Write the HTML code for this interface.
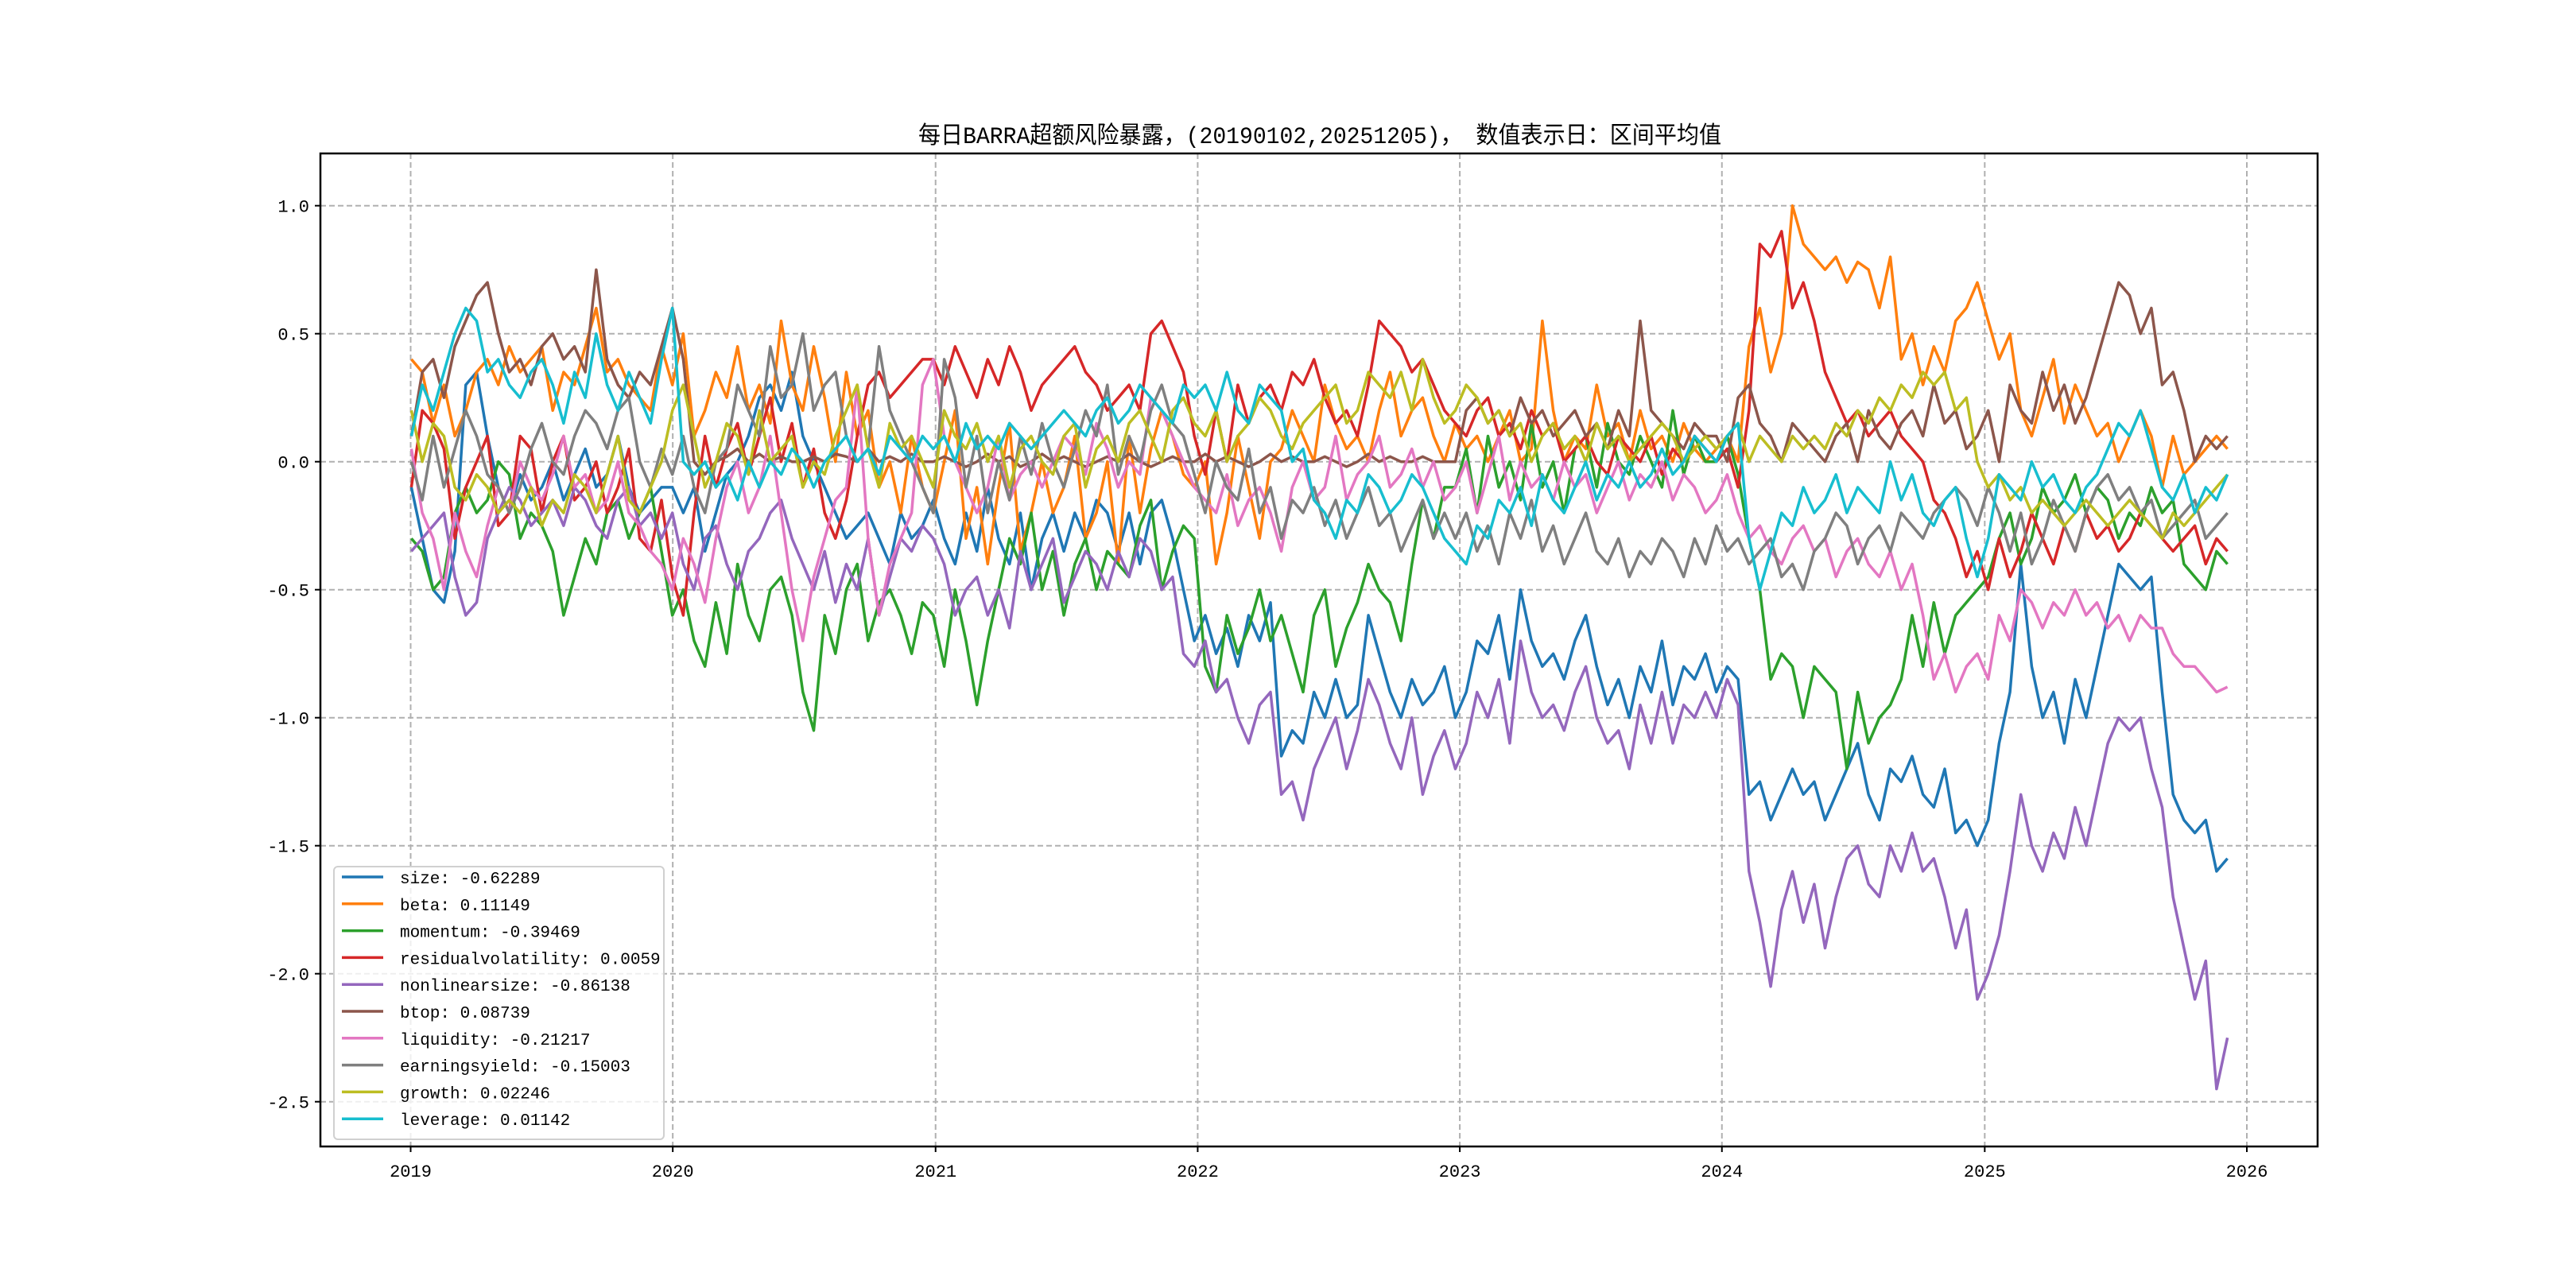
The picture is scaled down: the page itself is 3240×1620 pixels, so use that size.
<!DOCTYPE html>
<html><head><meta charset="utf-8"><title>BARRA exposure</title>
<style>
html,body{margin:0;padding:0;background:#fff;}
svg{display:block;}
.tk{font-family:"Liberation Mono","Noto Sans CJK SC",monospace;font-size:22px;fill:#000;}
.lg{font-family:"Liberation Mono","Noto Sans CJK SC",monospace;font-size:21px;fill:#000;}
.tt{font-family:"Liberation Mono","Noto Sans CJK SC",sans-serif;font-size:30px;fill:#000;}
</style></head>
<body>
<svg id="chart" width="3240" height="1620" viewBox="0 0 3240 1620" xmlns="http://www.w3.org/2000/svg">
<rect x="0" y="0" width="3240" height="1620" fill="#fff"/>
<text class="tt" x="1660" y="180" text-anchor="middle" textLength="1010" lengthAdjust="spacingAndGlyphs">每日BARRA超额风险暴露，(20190102,20251205)， 数值表示日：区间平均值</text>
<g id="grid"></g>
<g id="series"></g>
<rect x="403" y="193" width="2512" height="1249" fill="none" stroke="#000" stroke-width="2.5"/>
<g id="ticks"></g>
<g id="legend"></g>
</svg>
<script>
const seriesNames = ["size","beta","momentum","residualvolatility","nonlinearsize","btop","liquidity","earningsyield","growth","leverage"];
const legendValues = ["-0.62289","0.11149","-0.39469","0.0059","-0.86138","0.08739","-0.21217","-0.15003","0.02246","0.01142"];
const colors = ["#1f77b4","#ff7f0e","#2ca02c","#d62728","#9467bd","#8c564b","#e377c2","#7f7f7f","#bcbd22","#17becf"];
const yTicks = [1.0,0.5,0.0,-0.5,-1.0,-1.5,-2.0,-2.5];
const yTickLabels = ["1.0","0.5","0.0","-0.5","-1.0","-1.5","-2.0","-2.5"];
const xTickYears = [2019,2020,2021,2022,2023,2024,2025,2026];
const startDate = "2019-01-02";
const endDate = "2025-12-05";

const size = [-0.1,-0.3,-0.5,-0.55,-0.35,0.3,0.35,0.1,-0.1,-0.2,-0.05,-0.15,-0.1,0.0,-0.15,-0.05,0.05,-0.1,-0.05,0.1,-0.1,-0.2,-0.15,-0.1,
-0.1,-0.2,-0.1,-0.35,-0.2,-0.05,0.0,0.1,0.25,0.3,0.2,0.35,0.1,0.0,-0.1,-0.2,-0.3,-0.25,-0.2,-0.3,-0.4,-0.2,-0.3,-0.25,
-0.15,-0.3,-0.4,-0.2,-0.35,-0.1,-0.3,-0.4,-0.2,-0.5,-0.3,-0.2,-0.35,-0.2,-0.3,-0.15,-0.2,-0.35,-0.2,-0.4,-0.2,-0.15,-0.3,-0.5,
-0.7,-0.6,-0.75,-0.65,-0.8,-0.6,-0.7,-0.55,-1.15,-1.05,-1.1,-0.9,-1.0,-0.85,-1.0,-0.95,-0.6,-0.75,-0.9,-1.0,-0.85,-0.95,-0.9,-0.8,
-1.0,-0.9,-0.7,-0.75,-0.6,-0.85,-0.5,-0.7,-0.8,-0.75,-0.85,-0.7,-0.6,-0.8,-0.95,-0.85,-1.0,-0.8,-0.9,-0.7,-0.95,-0.8,-0.85,-0.75,
-0.9,-0.8,-0.85,-1.3,-1.25,-1.4,-1.3,-1.2,-1.3,-1.25,-1.4,-1.3,-1.2,-1.1,-1.3,-1.4,-1.2,-1.25,-1.15,-1.3,-1.35,-1.2,-1.45,-1.4,
-1.5,-1.4,-1.1,-0.9,-0.4,-0.8,-1.0,-0.9,-1.1,-0.85,-1.0,-0.8,-0.6,-0.4,-0.45,-0.5,-0.45,-0.9,-1.3,-1.4,-1.45,-1.4,-1.6,-1.55];
const beta = [0.4,0.35,0.15,0.3,0.1,0.2,0.35,0.4,0.3,0.45,0.35,0.4,0.45,0.2,0.35,0.3,0.45,0.6,0.35,0.4,0.3,0.25,0.2,0.45,
0.3,0.5,0.1,0.2,0.35,0.25,0.45,0.2,0.3,0.15,0.55,0.3,0.2,0.45,0.25,0.0,0.35,0.1,0.2,-0.1,0.0,-0.2,0.1,-0.1,
-0.2,0.0,0.2,-0.3,-0.1,-0.4,-0.1,0.15,-0.35,-0.2,0.0,-0.2,-0.1,0.1,-0.3,-0.2,0.0,-0.4,0.1,-0.2,0.05,0.2,0.1,-0.05,
-0.1,0.0,-0.4,-0.2,0.1,-0.1,-0.3,0.0,0.05,0.2,0.1,0.0,0.3,0.15,0.05,0.1,0.0,0.2,0.35,0.1,0.2,0.25,0.1,0.0,
0.15,0.05,0.1,0.0,0.1,0.2,0.0,0.05,0.55,0.2,0.0,0.1,0.05,0.3,0.1,0.15,0.0,0.2,0.05,0.1,0.0,0.15,0.05,0.0,
0.05,0.1,0.0,0.45,0.6,0.35,0.5,1.0,0.85,0.8,0.75,0.8,0.7,0.78,0.75,0.6,0.8,0.4,0.5,0.3,0.45,0.35,0.55,0.6,
0.7,0.55,0.4,0.5,0.2,0.1,0.25,0.4,0.15,0.3,0.2,0.1,0.15,0.0,0.1,0.2,0.1,-0.1,0.1,-0.05,0.0,0.05,0.1,0.05];
const momentum = [-0.3,-0.35,-0.5,-0.45,-0.2,-0.1,-0.2,-0.15,0.0,-0.05,-0.3,-0.2,-0.25,-0.35,-0.6,-0.45,-0.3,-0.4,-0.2,-0.15,-0.3,-0.2,-0.1,-0.35,
-0.6,-0.5,-0.7,-0.8,-0.55,-0.75,-0.4,-0.6,-0.7,-0.5,-0.45,-0.6,-0.9,-1.05,-0.6,-0.75,-0.5,-0.4,-0.7,-0.55,-0.5,-0.6,-0.75,-0.55,
-0.6,-0.8,-0.5,-0.7,-0.95,-0.7,-0.5,-0.3,-0.4,-0.2,-0.5,-0.35,-0.6,-0.4,-0.3,-0.5,-0.35,-0.4,-0.45,-0.25,-0.15,-0.5,-0.35,-0.25,
-0.3,-0.8,-0.9,-0.6,-0.75,-0.65,-0.5,-0.7,-0.6,-0.75,-0.9,-0.6,-0.5,-0.8,-0.65,-0.55,-0.4,-0.5,-0.55,-0.7,-0.4,-0.15,-0.3,-0.1,
-0.1,0.05,-0.2,0.1,-0.1,0.0,-0.15,0.15,-0.1,0.0,-0.2,0.05,0.1,-0.1,0.15,0.0,-0.05,0.1,0.0,-0.1,0.2,-0.05,0.1,0.0,
0.0,0.1,-0.05,-0.3,-0.5,-0.85,-0.75,-0.8,-1.0,-0.8,-0.85,-0.9,-1.2,-0.9,-1.1,-1.0,-0.95,-0.85,-0.6,-0.8,-0.55,-0.75,-0.6,-0.55,
-0.5,-0.45,-0.3,-0.2,-0.4,-0.3,-0.1,-0.2,-0.15,-0.05,-0.2,-0.1,-0.15,-0.3,-0.2,-0.25,-0.1,-0.2,-0.15,-0.4,-0.45,-0.5,-0.35,-0.4];
const residualvolatility = [-0.1,0.2,0.15,0.05,-0.3,-0.1,0.0,0.1,-0.25,-0.2,0.1,0.05,-0.2,0.0,0.1,-0.15,-0.1,0.0,-0.2,-0.1,0.05,-0.3,-0.35,-0.15,
-0.45,-0.6,-0.2,0.1,-0.1,0.05,0.15,-0.05,0.1,0.25,0.0,0.15,-0.1,0.05,-0.2,-0.3,-0.15,0.1,0.3,0.35,0.25,0.3,0.35,0.4,
0.4,0.3,0.45,0.35,0.25,0.4,0.3,0.45,0.35,0.2,0.3,0.35,0.4,0.45,0.35,0.3,0.2,0.25,0.3,0.2,0.5,0.55,0.45,0.35,
0.1,-0.05,0.2,0.0,0.3,0.15,0.25,0.3,0.2,0.35,0.3,0.4,0.25,0.15,0.2,0.1,0.3,0.55,0.5,0.45,0.35,0.4,0.3,0.2,
0.15,0.1,0.2,0.25,0.1,0.15,0.05,0.2,0.1,0.15,0.0,0.05,0.1,0.0,-0.05,0.1,0.05,0.0,0.1,-0.05,0.05,0.0,0.1,0.05,
0.0,0.05,-0.1,0.2,0.85,0.8,0.9,0.6,0.7,0.55,0.35,0.25,0.15,0.2,0.1,0.15,0.2,0.1,0.05,0.0,-0.15,-0.2,-0.3,-0.45,
-0.35,-0.5,-0.3,-0.45,-0.35,-0.2,-0.3,-0.4,-0.25,-0.35,-0.2,-0.3,-0.25,-0.35,-0.3,-0.2,-0.25,-0.3,-0.35,-0.3,-0.25,-0.4,-0.3,-0.35];
const nonlinearsize = [-0.35,-0.3,-0.25,-0.2,-0.45,-0.6,-0.55,-0.3,-0.2,-0.1,-0.15,-0.25,-0.2,-0.15,-0.25,-0.1,-0.15,-0.25,-0.3,-0.15,-0.1,-0.25,-0.2,-0.3,
-0.2,-0.4,-0.5,-0.3,-0.25,-0.4,-0.5,-0.35,-0.3,-0.2,-0.15,-0.3,-0.4,-0.5,-0.35,-0.55,-0.4,-0.5,-0.3,-0.6,-0.45,-0.3,-0.35,-0.25,
-0.3,-0.4,-0.6,-0.5,-0.45,-0.6,-0.5,-0.65,-0.35,-0.5,-0.4,-0.3,-0.55,-0.45,-0.35,-0.4,-0.5,-0.35,-0.45,-0.3,-0.35,-0.5,-0.45,-0.75,
-0.8,-0.7,-0.9,-0.85,-1.0,-1.1,-0.95,-0.9,-1.3,-1.25,-1.4,-1.2,-1.1,-1.0,-1.2,-1.05,-0.85,-0.95,-1.1,-1.2,-1.0,-1.3,-1.15,-1.05,
-1.2,-1.1,-0.9,-1.0,-0.85,-1.1,-0.7,-0.9,-1.0,-0.95,-1.05,-0.9,-0.8,-1.0,-1.1,-1.05,-1.2,-0.95,-1.1,-0.9,-1.1,-0.95,-1.0,-0.9,
-1.0,-0.85,-0.95,-1.6,-1.8,-2.05,-1.75,-1.6,-1.8,-1.65,-1.9,-1.7,-1.55,-1.5,-1.65,-1.7,-1.5,-1.6,-1.45,-1.6,-1.55,-1.7,-1.9,-1.75,
-2.1,-2.0,-1.85,-1.6,-1.3,-1.5,-1.6,-1.45,-1.55,-1.35,-1.5,-1.3,-1.1,-1.0,-1.05,-1.0,-1.2,-1.35,-1.7,-1.9,-2.1,-1.95,-2.45,-2.25];
const btop = [0.1,0.35,0.4,0.25,0.45,0.55,0.65,0.7,0.5,0.35,0.4,0.3,0.45,0.5,0.4,0.45,0.35,0.75,0.4,0.3,0.25,0.35,0.3,0.45,
0.6,0.4,0.0,-0.05,0.0,0.02,0.05,0.0,0.03,0.0,0.02,0.0,0.0,0.02,0.0,0.03,0.02,0.0,0.05,0.0,0.02,0.0,0.03,0.0,
0.0,0.02,0.0,-0.02,0.0,0.03,0.0,0.02,-0.02,0.0,0.03,0.0,0.02,0.0,-0.02,0.0,0.02,0.0,0.03,0.0,-0.02,0.0,0.02,0.0,
0.0,0.03,0.0,0.02,0.0,-0.02,0.0,0.03,0.0,0.02,0.0,0.0,0.02,0.0,-0.02,0.0,0.03,0.0,0.02,0.0,0.0,0.02,0.0,0.0,
0.0,0.2,0.25,0.15,0.2,0.1,0.25,0.15,0.2,0.1,0.15,0.2,0.1,0.15,0.05,0.2,0.1,0.55,0.2,0.15,0.1,0.05,0.15,0.1,
0.1,0.0,0.25,0.3,0.15,0.1,0.0,0.15,0.1,0.05,0.0,0.1,0.15,0.0,0.2,0.1,0.05,0.15,0.2,0.1,0.3,0.15,0.2,0.05,
0.1,0.2,0.0,0.3,0.2,0.15,0.35,0.2,0.3,0.15,0.25,0.4,0.55,0.7,0.65,0.5,0.6,0.3,0.35,0.2,0.0,0.1,0.05,0.1];
const liquidity = [0.05,-0.2,-0.3,-0.5,-0.2,-0.35,-0.45,-0.25,-0.1,-0.2,0.0,-0.1,-0.15,-0.05,0.1,-0.1,-0.05,-0.2,-0.15,0.0,-0.2,-0.25,-0.35,-0.4,
-0.5,-0.3,-0.4,-0.55,-0.3,-0.1,0.0,-0.2,-0.1,0.1,-0.2,-0.5,-0.7,-0.45,-0.3,-0.15,-0.1,0.3,-0.3,-0.6,-0.4,-0.3,-0.2,0.3,
0.4,0.1,0.0,-0.1,-0.2,-0.1,0.1,-0.15,-0.05,0.0,-0.1,0.0,0.1,0.05,-0.05,0.15,0.05,-0.1,0.0,-0.05,0.25,0.2,0.1,0.0,
-0.1,-0.15,-0.2,-0.05,-0.25,-0.15,-0.1,-0.2,-0.35,-0.1,0.0,-0.15,-0.1,0.1,-0.15,-0.05,0.0,0.1,-0.1,-0.05,0.05,-0.1,0.0,-0.15,
-0.1,0.0,-0.2,-0.05,0.1,-0.15,0.0,-0.1,-0.05,-0.15,0.0,-0.1,-0.05,-0.2,-0.1,0.0,-0.15,-0.05,-0.1,0.0,-0.15,-0.05,-0.1,-0.2,
-0.15,-0.05,-0.2,-0.3,-0.25,-0.35,-0.4,-0.3,-0.25,-0.35,-0.3,-0.45,-0.35,-0.3,-0.4,-0.45,-0.35,-0.5,-0.4,-0.6,-0.85,-0.75,-0.9,-0.8,
-0.75,-0.85,-0.6,-0.7,-0.5,-0.55,-0.65,-0.55,-0.6,-0.5,-0.6,-0.55,-0.65,-0.6,-0.7,-0.6,-0.65,-0.65,-0.75,-0.8,-0.8,-0.85,-0.9,-0.88];
const earningsyield = [0.0,-0.15,0.1,-0.1,0.05,0.2,0.1,-0.05,-0.1,-0.2,-0.1,0.05,0.15,0.0,-0.05,0.1,0.2,0.15,0.05,0.2,0.25,0.0,-0.1,0.05,
-0.05,0.1,-0.1,-0.2,0.0,0.05,0.3,0.2,0.1,0.45,0.25,0.3,0.5,0.2,0.3,0.35,0.1,0.0,0.05,0.45,0.2,0.1,0.0,-0.1,
-0.2,0.4,0.25,-0.1,0.1,-0.2,0.0,-0.15,0.1,-0.05,0.15,0.0,-0.1,0.05,0.2,0.1,0.3,-0.05,0.1,0.0,0.2,0.3,0.15,0.1,
-0.05,-0.2,0.0,-0.1,-0.15,0.05,-0.2,-0.1,-0.3,-0.15,-0.2,-0.1,-0.25,-0.15,-0.3,-0.2,-0.1,-0.25,-0.2,-0.35,-0.25,-0.15,-0.3,-0.2,
-0.3,-0.2,-0.35,-0.25,-0.4,-0.2,-0.3,-0.15,-0.35,-0.25,-0.4,-0.3,-0.2,-0.35,-0.4,-0.3,-0.45,-0.35,-0.4,-0.3,-0.35,-0.45,-0.3,-0.4,
-0.25,-0.35,-0.3,-0.4,-0.35,-0.3,-0.45,-0.4,-0.5,-0.35,-0.3,-0.2,-0.25,-0.4,-0.3,-0.25,-0.35,-0.2,-0.25,-0.3,-0.2,-0.15,-0.1,-0.15,
-0.25,-0.1,-0.2,-0.35,-0.2,-0.4,-0.3,-0.15,-0.25,-0.35,-0.2,-0.1,-0.05,-0.15,-0.1,-0.2,-0.15,-0.3,-0.25,-0.2,-0.15,-0.3,-0.25,-0.2];
const growth = [0.2,0.0,0.15,0.1,-0.1,-0.15,-0.05,-0.1,-0.2,-0.15,-0.2,-0.1,-0.25,-0.15,-0.2,-0.05,-0.1,-0.2,-0.05,0.1,-0.15,-0.2,-0.1,0.0,
0.2,0.3,0.1,-0.1,0.0,0.15,0.1,-0.05,0.2,0.0,0.05,0.1,-0.1,0.0,-0.05,0.1,0.2,0.3,0.05,-0.1,0.15,0.05,0.1,0.0,
-0.1,0.2,0.1,0.05,0.15,0.0,0.1,-0.1,0.05,0.1,0.0,-0.05,0.1,0.15,-0.1,0.05,0.1,0.0,0.15,0.2,0.1,0.0,0.2,0.25,
0.15,0.1,0.2,0.0,0.1,0.15,0.25,0.2,0.1,0.05,0.15,0.2,0.25,0.3,0.15,0.2,0.35,0.3,0.25,0.35,0.2,0.4,0.25,0.15,
0.2,0.3,0.25,0.15,0.2,0.1,0.15,0.0,0.1,0.15,0.05,0.1,0.0,0.15,0.05,0.1,0.0,0.05,0.1,0.15,0.1,0.0,0.05,0.1,
0.05,0.1,0.15,0.0,0.1,0.05,0.0,0.1,0.05,0.1,0.05,0.15,0.1,0.2,0.15,0.25,0.2,0.3,0.25,0.35,0.3,0.35,0.2,0.25,
0.0,-0.1,-0.05,-0.15,-0.1,-0.2,-0.15,-0.2,-0.25,-0.2,-0.15,-0.2,-0.25,-0.2,-0.15,-0.2,-0.25,-0.3,-0.2,-0.25,-0.2,-0.15,-0.1,-0.05];
const leverage = [0.1,0.3,0.2,0.35,0.5,0.6,0.55,0.35,0.4,0.3,0.25,0.35,0.4,0.3,0.15,0.35,0.25,0.5,0.3,0.2,0.35,0.25,0.15,0.4,
0.6,0.0,-0.05,0.0,-0.1,-0.05,-0.15,0.0,-0.1,0.0,-0.05,0.05,0.0,-0.1,0.0,0.05,0.1,0.0,0.05,-0.05,0.1,0.05,0.0,0.1,
0.05,0.1,0.0,0.15,0.05,0.1,0.05,0.15,0.1,0.05,0.1,0.15,0.2,0.15,0.1,0.2,0.25,0.15,0.2,0.3,0.25,0.2,0.15,0.3,
0.25,0.3,0.2,0.35,0.2,0.15,0.3,0.25,0.2,0.0,0.05,-0.15,-0.2,-0.3,-0.15,-0.2,-0.05,-0.1,-0.2,-0.15,-0.05,-0.1,-0.2,-0.3,
-0.35,-0.4,-0.25,-0.3,-0.15,-0.2,-0.1,-0.25,-0.05,-0.15,-0.2,-0.1,0.0,-0.15,-0.05,-0.1,0.0,-0.1,-0.05,0.05,-0.05,0.0,0.1,0.05,
0.0,0.1,0.15,-0.3,-0.5,-0.35,-0.2,-0.25,-0.1,-0.2,-0.15,-0.05,-0.2,-0.1,-0.15,-0.2,0.0,-0.15,-0.05,-0.2,-0.25,-0.15,-0.1,-0.3,
-0.45,-0.3,-0.05,-0.1,-0.15,0.0,-0.1,-0.05,-0.15,-0.2,-0.1,-0.05,0.05,0.15,0.1,0.2,0.05,-0.1,-0.15,-0.05,-0.2,-0.1,-0.15,-0.05];

const allSeries = [size,beta,momentum,residualvolatility,nonlinearsize,btop,liquidity,earningsyield,growth,leverage];

const NS = "http://www.w3.org/2000/svg";
const L = 403, R = 2915, T = 193, B = 1442;
const DAY = 86400000;
const x0 = Date.UTC(2019,0,1), x0px = 516.5, pxPerDay = (2826-516.5)/(Date.UTC(2026,0,1)-x0)*DAY;
function xScale(ms){ return x0px + (ms - x0)/DAY*pxPerDay; }
function yScale(v){ return 580.7 - v*322; }
function mk(tag, attrs, parent){ const e = document.createElementNS(NS, tag); for (const k in attrs) e.setAttribute(k, attrs[k]); parent.appendChild(e); return e; }

const grid = document.getElementById('grid');
const ticks = document.getElementById('ticks');
yTicks.forEach((v,i)=>{
  const y = yScale(v);
  const g = mk('line',{x1:L,x2:R,y1:y,y2:y,stroke:'#b0b0b0','stroke-width':2,'stroke-dasharray':'7,4'},grid);
  
  
  const t = mk('line',{x1:L-7,x2:L,y1:y,y2:y,stroke:'#000','stroke-width':2},ticks);
  
  
  const lb = mk('text',{x:L-14,y:y+8,'text-anchor':'end',class:'tk'},ticks);
  lb.textContent = yTickLabels[i];
  
  
});
xTickYears.forEach(yr=>{
  const x = xScale(Date.UTC(yr,0,1));
  const g = mk('line',{x1:x,x2:x,y1:T,y2:B,stroke:'#b0b0b0','stroke-width':2,'stroke-dasharray':'7,4'},grid);
  
  
  const t = mk('line',{x1:x,x2:x,y1:B,y2:B+7,stroke:'#000','stroke-width':2},ticks);
  
  
  const lb = mk('text',{x:x,y:B+38,'text-anchor':'middle',class:'tk'},ticks);
  lb.textContent = String(yr);
  
  
});

const sg = document.getElementById('series');
const s0 = Date.parse(startDate), s1 = Date.parse(endDate);
allSeries.forEach((arr,si)=>{
  const n = arr.length;
  const pts = arr.map((v,i)=> xScale(s0 + (s1-s0)*i/(n-1)).toFixed(1)+','+yScale(v).toFixed(1)).join(' ');
  const pl = mk('polyline',{points:pts,fill:'none',stroke:colors[si],'stroke-width':3.5,'stroke-linejoin':'round'},sg);
  
  
});

const lg = document.getElementById('legend');
const box = mk('rect',{x:420,y:1090,width:415,height:343,rx:5,fill:'#fff','fill-opacity':0.8,stroke:'#d0d0d0','stroke-width':2},lg);


seriesNames.forEach((nm,i)=>{
  const y = 1103 + i*33.8;
  const ln = mk('line',{x1:430,x2:482,y1:y,y2:y,stroke:colors[i],'stroke-width':3.5},lg);
  
  
  const tx = mk('text',{x:503,y:y+8,class:'lg'},lg);
  tx.textContent = nm+': '+legendValues[i];
  
  
});
</script>
</body></html>
